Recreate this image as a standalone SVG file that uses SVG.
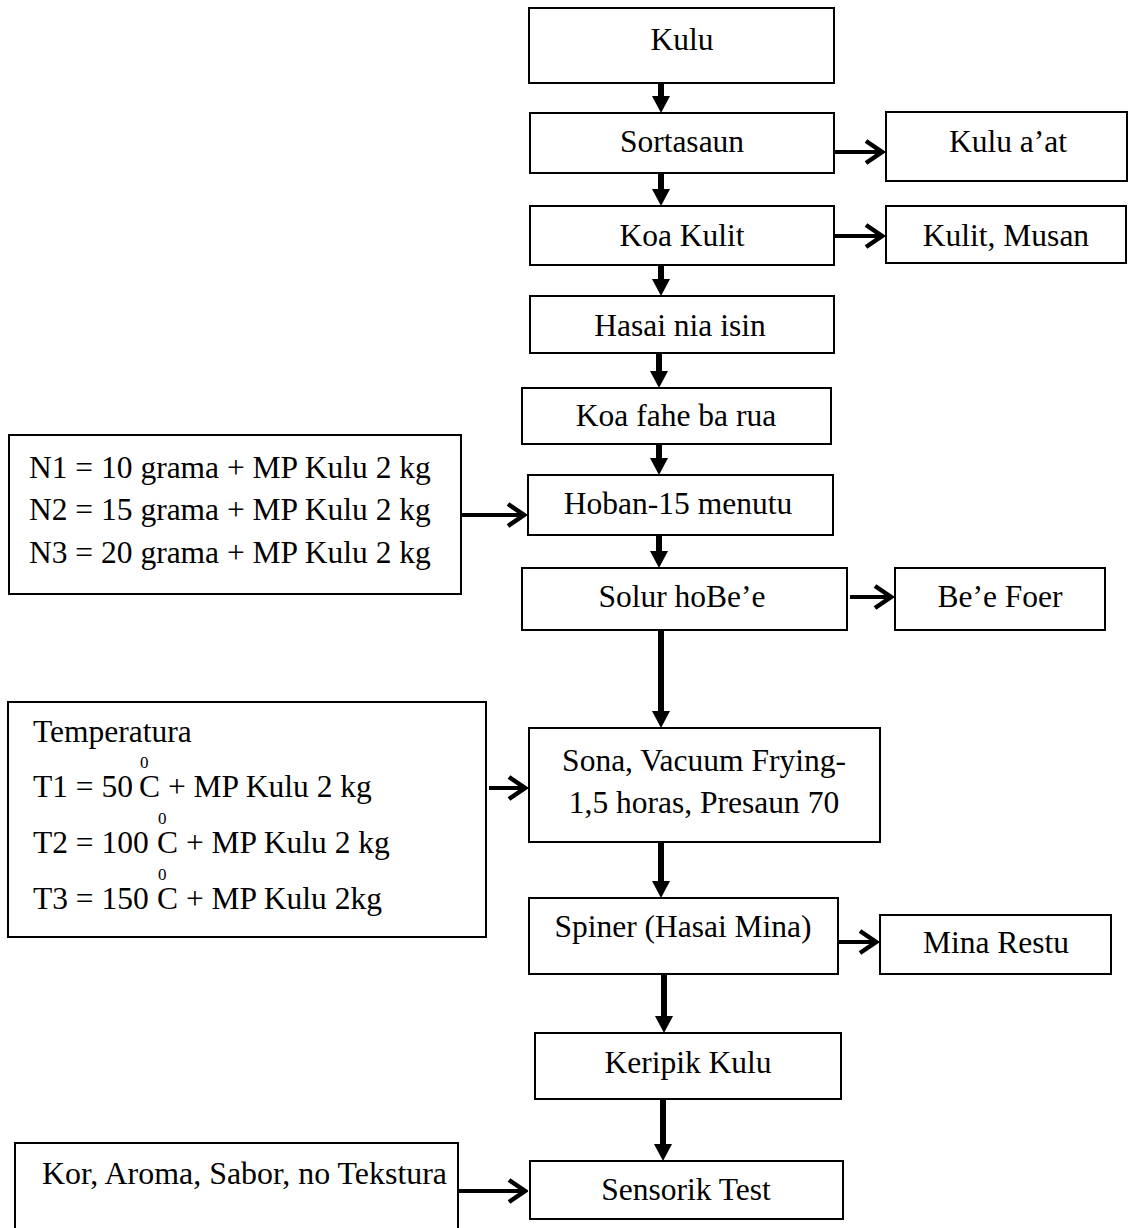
<svg xmlns="http://www.w3.org/2000/svg" width="1128" height="1228" viewBox="0 0 1128 1228">
<style>
.box{fill:#fff;stroke:#000;stroke-width:2}
text{font-family:"Liberation Serif","Times New Roman",serif;font-size:31.5px;fill:#000}
.c{text-anchor:middle}
.sup{font-size:17px}
.v{stroke:#000;stroke-width:6;fill:none}
.h{stroke:#000;stroke-width:4;fill:none}
</style>
<defs>
<marker id="tri" viewBox="0 0 17 18" markerWidth="17" markerHeight="18" refX="1" refY="9" orient="auto" markerUnits="userSpaceOnUse">
<path d="M0,0 L17,9 L0,18 z" fill="#000"/>
</marker>
<marker id="chev" viewBox="-3 -3 22 28" markerWidth="22" markerHeight="28" refX="16" refY="11" orient="auto" markerUnits="userSpaceOnUse">
<path d="M0,0 L16,11 L0,22" fill="none" stroke="#000" stroke-width="4.5"/>
</marker>
</defs>
<rect width="1128" height="1228" fill="#fff"/>
<g id="connectors">
<line class="v" x1="661" y1="84" x2="661" y2="97" marker-end="url(#tri)"/>
<line class="v" x1="661" y1="174" x2="661" y2="190" marker-end="url(#tri)"/>
<line class="v" x1="661" y1="266" x2="661" y2="280" marker-end="url(#tri)"/>
<line class="v" x1="659" y1="354" x2="659" y2="372" marker-end="url(#tri)"/>
<line class="v" x1="659" y1="445" x2="659" y2="459" marker-end="url(#tri)"/>
<line class="v" x1="659" y1="536" x2="659" y2="552" marker-end="url(#tri)"/>
<line class="v" x1="661" y1="615" x2="661" y2="712" marker-end="url(#tri)"/>
<line class="v" x1="661" y1="843" x2="661" y2="882" marker-end="url(#tri)"/>
<line class="v" x1="664" y1="975" x2="664" y2="1017" marker-end="url(#tri)"/>
<line class="v" x1="663" y1="1100" x2="663" y2="1145" marker-end="url(#tri)"/>
<line class="h" x1="835" y1="152" x2="882" y2="152" marker-end="url(#chev)"/>
<line class="h" x1="835" y1="236" x2="882" y2="236" marker-end="url(#chev)"/>
<line class="h" x1="462" y1="515" x2="524" y2="515" marker-end="url(#chev)"/>
<line class="h" x1="850" y1="597" x2="891" y2="597" marker-end="url(#chev)"/>
<line class="h" x1="489" y1="788" x2="525" y2="788" marker-end="url(#chev)"/>
<line class="h" x1="839" y1="942" x2="876" y2="942" marker-end="url(#chev)"/>
<line class="h" x1="459" y1="1191" x2="525" y2="1191" marker-end="url(#chev)"/>
</g>
<g id="kulu"><rect class="box" x="529" y="8" width="305" height="75"/><text class="c" x="682" y="50">Kulu</text></g>
<g id="sortasaun"><rect class="box" x="530" y="113" width="304" height="60"/><text class="c" x="682" y="152">Sortasaun</text></g>
<g id="kulu-aat"><rect class="box" x="886" y="112" width="241" height="69"/><text class="c" x="1008" y="152">Kulu a’at</text></g>
<g id="koa-kulit"><rect class="box" x="530" y="206" width="304" height="59"/><text class="c" x="682" y="246">Koa Kulit</text></g>
<g id="kulit-musan"><rect class="box" x="886" y="206" width="240" height="57"/><text class="c" x="1006" y="246">Kulit, Musan</text></g>
<g id="hasai"><rect class="box" x="530" y="296" width="304" height="57"/><text class="c" x="680" y="336">Hasai nia isin</text></g>
<g id="koa-fahe"><rect class="box" x="522" y="388" width="309" height="56"/><text class="c" x="676" y="426">Koa fahe ba rua</text></g>
<g id="hoban"><rect class="box" x="528" y="475" width="305" height="60"/><text class="c" x="678" y="514">Hoban-15 menutu</text></g>
<g id="n-box"><rect class="box" x="9" y="435" width="452" height="159"/>
<text x="29" y="478">N1 = 10 grama + MP Kulu 2 kg</text>
<text x="29" y="520">N2 = 15 grama + MP Kulu 2 kg</text>
<text x="29" y="563">N3 = 20 grama + MP Kulu 2 kg</text></g>
<g id="solur"><rect class="box" x="522" y="568" width="325" height="62"/><text class="c" x="682" y="607">Solur hoBe’e</text></g>
<g id="bee-foer"><rect class="box" x="895" y="568" width="210" height="62"/><text class="c" x="1000" y="607">Be’e Foer</text></g>
<g id="temp-box"><rect class="box" x="8" y="702" width="478" height="235"/>
<text x="33" y="742">Temperatura</text>
<text x="33" y="797">T1 = 50 <tspan class="sup" x="140" y="768">0</tspan><tspan x="139" y="797">C + MP Kulu 2 kg</tspan></text>
<text x="33" y="853">T2 = 100 <tspan class="sup" x="158" y="824">0</tspan><tspan x="157" y="853">C + MP Kulu 2 kg</tspan></text>
<text x="33" y="909">T3 = 150 <tspan class="sup" x="158" y="880">0</tspan><tspan x="157" y="909">C + MP Kulu 2kg</tspan></text></g>
<g id="sona"><rect class="box" x="529" y="728" width="351" height="114"/>
<text class="c" x="704" y="771">Sona, Vacuum Frying-</text>
<text class="c" x="704" y="813">1,5 horas, Presaun 70</text></g>
<g id="spiner"><rect class="box" x="529" y="898" width="309" height="76"/><text class="c" x="683" y="937">Spiner (Hasai Mina)</text></g>
<g id="mina-restu"><rect class="box" x="880" y="915" width="231" height="59"/><text class="c" x="996" y="953">Mina Restu</text></g>
<g id="keripik"><rect class="box" x="535" y="1033" width="306" height="66"/><text class="c" x="688" y="1073">Keripik Kulu</text></g>
<g id="kor-box"><rect class="box" x="15" y="1143" width="443" height="95"/><text x="42" y="1184" textLength="405" lengthAdjust="spacingAndGlyphs">Kor, Aroma, Sabor, no Tekstura</text></g>
<g id="sensorik"><rect class="box" x="530" y="1161" width="313" height="58"/><text class="c" x="686" y="1200">Sensorik Test</text></g>
</svg>
